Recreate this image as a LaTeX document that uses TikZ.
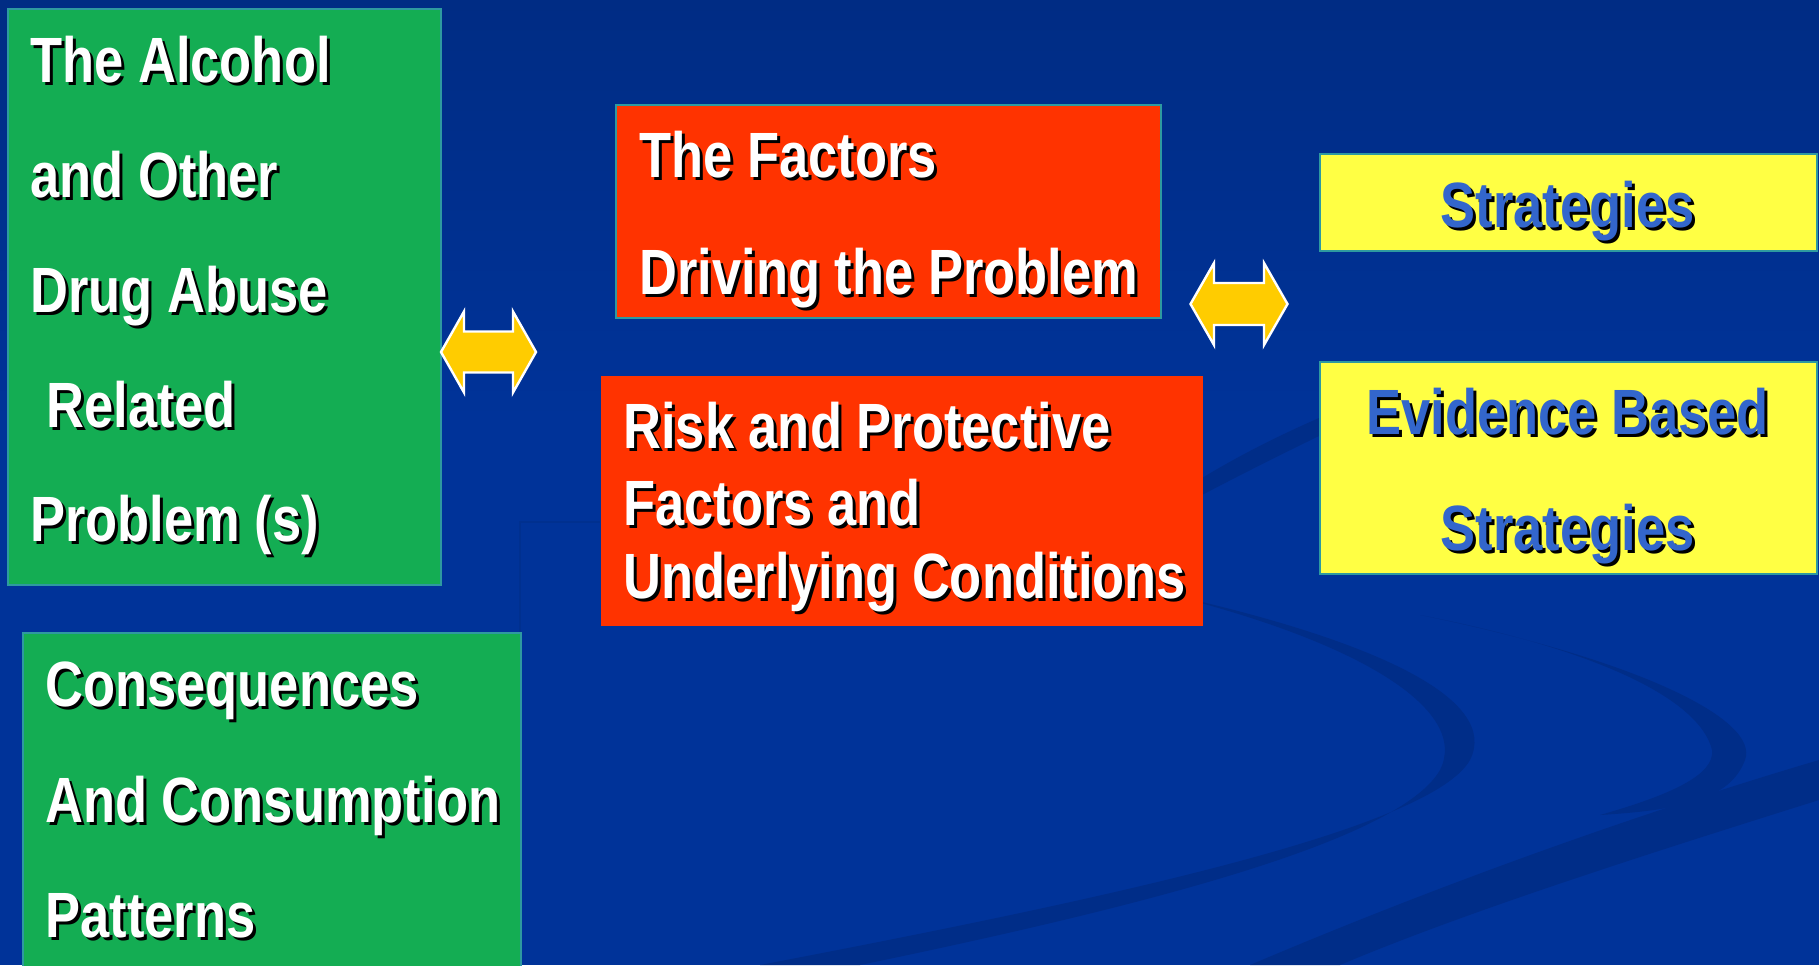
\documentclass[tikz,border=0pt]{standalone}
\usepackage{fontspec}
\newfontfamily\nb{Liberation Sans}[FakeStretch=0.82]
\usetikzlibrary{calc}
\definecolor{bg}{HTML}{003399}
\definecolor{bgtop}{HTML}{002C84}
\definecolor{swoosh}{HTML}{002D88}
\definecolor{gfill}{HTML}{14AD53}
\definecolor{rfill}{HTML}{FF3300}
\definecolor{yfill}{HTML}{FFFF44}
\definecolor{bline}{HTML}{2E9AA0}
\definecolor{ytext}{HTML}{3366CC}
\definecolor{afill}{HTML}{FFCC00}
\definecolor{faint}{HTML}{00308F}
\tikzset{
  box/.style={draw=bline, line width=1pt, inner sep=0pt, anchor=north west},
  txt/.style={inner sep=0pt, font=\nb\bfseries\fontsize{32pt}{32pt}\selectfont},
  dblarrow/.style={fill=afill, draw=white, line width=1.2pt, line join=miter},
  band/.style={fill=swoosh, draw=none},
}
\newcommand{\stxt}[6]{%
  \node[txt, anchor=#4, text=black] (#1s) at (#2+3,#3+3) {#6};
  \node[txt, anchor=#4, text=#5] (#1) at (#2,#3) {#6};}
\begin{document}
\begin{tikzpicture}[x=0.5pt,y=-0.5pt]
\useasboundingbox (0,0) rectangle (1819,965);
% background
\fill[bg] (0,0) rectangle (1819,965);
\shade[top color=bgtop, bottom color=bg] (0,0) rectangle (1819,420);
% swooshes
\path[band] (1150,590) .. controls (1380,640) and (1500,700) .. (1470,760)
  .. controls (1430,830) and (1100,900) .. (760,965) -- (860,965)
  .. controls (1150,905) and (1400,840) .. (1440,770)
  .. controls (1470,710) and (1360,640) .. (1150,590) -- cycle;
\path[band] (1420,615) .. controls (1640,660) and (1760,720) .. (1745,760)
  .. controls (1730,800) and (1680,810) .. (1600,815)
  .. controls (1670,795) and (1715,775) .. (1712,750)
  .. controls (1700,700) and (1600,650) .. (1420,615) -- cycle;
\path[band] (1250,965) .. controls (1450,880) and (1650,810) .. (1819,760)
  -- (1819,800) .. controls (1660,850) and (1470,910) .. (1340,965) -- cycle;
\path[band] (1202,478) .. controls (1240,455) and (1280,435) .. (1319,418)
  -- (1319,436) .. controls (1280,455) and (1240,475) .. (1202,495) -- cycle;
\draw[faint, line width=0.6pt] (520,632) -- (520,522) -- (600,522);
% boxes
\node[box, fill=gfill, minimum width=216.5pt, minimum height=288pt] (g1) at (7,8) {};
\node[box, fill=gfill, minimum width=249pt, minimum height=170pt] (g2) at (22,632) {};
\node[box, fill=rfill, minimum width=272.5pt, minimum height=106.5pt] (r1) at (615,104) {};
\node[box, fill=rfill, draw=none, minimum width=301pt, minimum height=125pt] (r2) at (600,375) {};
\node[box, fill=yfill, minimum width=248.5pt, minimum height=48.5pt] (y1) at (1319,153) {};
\node[box, fill=yfill, minimum width=248.5pt, minimum height=106pt] (y2) at (1319,361) {};
% texts
\stxt{g1a}{30}{82}{base west}{white}{The Alcohol}
\stxt{g1b}{30}{197}{base west}{white}{and Other}
\stxt{g1c}{30}{312}{base west}{white}{Drug Abuse}
\stxt{g1d}{46}{427}{base west}{white}{Related}
\stxt{g1e}{30}{541}{base west}{white}{Problem (s)}
\stxt{g2a}{45}{706}{base west}{white}{Consequences}
\stxt{g2b}{45}{822}{base west}{white}{And Consumption}
\stxt{g2c}{45}{937}{base west}{white}{Patterns}
\stxt{r1a}{639}{177}{base west}{white}{The Factors}
\stxt{r1b}{639}{294}{base west}{white}{Driving the Problem}
\stxt{r2a}{623}{448}{base west}{white}{Risk and Protective}
\stxt{r2b}{623}{525}{base west}{white}{Factors and}
\stxt{r2c}{623}{598}{base west}{white}{Underlying Conditions}
\stxt{y1a}{1567.5}{227}{base}{ytext}{Strategies}
\stxt{y2a}{1567.5}{434}{base}{ytext}{Evidence Based}
\stxt{y2b}{1567.5}{550}{base}{ytext}{Strategies}
% double arrows
\coordinate (a1) at (488.5,352);
\coordinate (a2) at (1239,304);
\draw[dblarrow, shift={(a1)}] (-47.5,0) -- (-24.5,-40.5) -- (-24.5,-20.5) -- (24.5,-20.5)
  -- (24.5,-40.5) -- (47.5,0) -- (24.5,40.5) -- (24.5,20.5) -- (-24.5,20.5) -- (-24.5,40.5) -- cycle;
\draw[dblarrow, shift={(a2)}] (-48.5,0) -- (-25,-41) -- (-25,-21) -- (25,-21)
  -- (25,-41) -- (48.5,0) -- (25,41) -- (25,21) -- (-25,21) -- (-25,41) -- cycle;
\end{tikzpicture}
\end{document}
